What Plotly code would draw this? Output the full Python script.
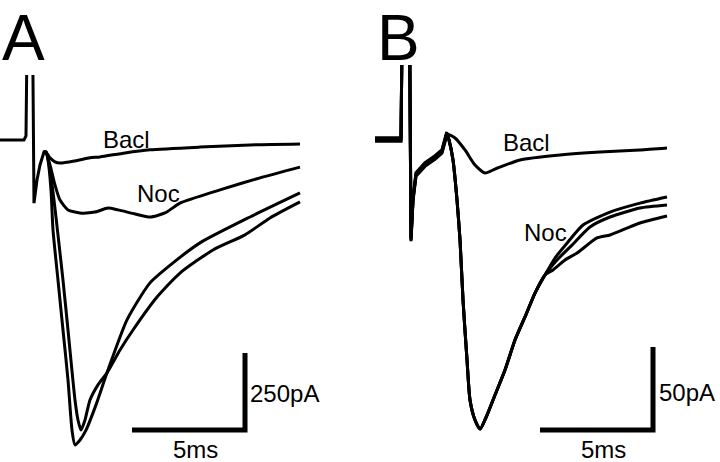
import plotly.graph_objects as go

# ---------------- Panel A (time in ms, current in pA) ----------------
a_pre_t = [-1.2, -0.044, 0.044, 0.133, 0.310, 0.398, 0.531, 0.664, 0.841, 0.929]
a_pre_i = [0, 0, 13, 600, 600, -205, -130, -81, -39, -39]

a_bacl_t = [1.106, 1.327, 1.549, 2.212, 2.876, 3.319, 4.425, 5.531, 7.743, 9.956, 12.168]
a_bacl_i = [-58, -71, -75, -68, -58, -55, -42, -32, -23, -16, -13]

a_noc_t = [1.106, 1.327, 1.549, 1.903, 2.434, 3.097, 3.673, 4.115, 4.867, 5.531, 6.195,
           6.858, 8.628, 10.398, 12.168]
a_noc_i = [-81, -146, -195, -227, -237, -234, -221, -227, -240, -250, -237,
           -205, -162, -123, -88]

a_ctl1_t = [1.018, 1.150, 1.239, 1.460, 1.681, 1.903, 2.080, 2.212, 2.434, 2.699, 3.142,
            3.628, 4.513, 5.531, 6.549, 7.743, 9.956, 12.168]
a_ctl1_i = [-65, -162, -292, -455, -617, -779, -942, -990, -974, -942, -860,
            -756, -584, -464, -399, -334, -250, -172]

a_ctl2_t = [1.106, 1.283, 1.460, 1.681, 1.903, 2.212, 2.345, 2.478, 2.655, 2.876, 3.230,
            3.628, 4.204, 4.779, 5.841, 6.858, 8.319, 9.735, 10.841, 12.168]
a_ctl2_i = [-97, -195, -308, -455, -617, -844, -909, -942, -909, -844, -795,
            -756, -682, -617, -510, -432, -357, -308, -253, -201]

# ---------------- Panel B ----------------
b_pre_t = [-1.106, 0.044, 0.133, 0.398, 0.487, 0.575, 0.708, 1.106, 1.549, 1.858, 2.035, 2.080]
b_pre_i = [0, 0, 120, 120, -60.2, -36.1, -21.1, -15.1, -10.8, -7.2, 1.8, 3.6]

b_bacl_t = [2.434, 2.876, 3.319, 3.761, 4.204, 5.310, 7.080, 8.850, 10.619, 11.814]
b_bacl_i = [1.2, -6.0, -15.1, -19.9, -17.5, -12.0, -9.0, -7.2, -6.0, -4.8]

b_main_t = [2.168, 2.345, 2.522, 2.655, 2.788, 2.965, 3.097, 3.319, 3.540, 3.850, 4.204,
            4.646, 5.088, 5.531, 5.973, 6.416]
b_main_i = [0, -12.0, -36.1, -60.2, -96.4, -132.5, -156.6, -168.7, -174.1, -165.7, -153.6,
            -138.6, -120.5, -106.6, -92.2, -81.3]

b_top_t = [6.858, 7.434, 8.097, 9.292, 10.619, 11.814]
b_top_i = [-71.1, -61.4, -51.2, -43.4, -38.0, -34.3]
b_mid_t = [6.947, 7.611, 8.407, 9.292, 10.619, 11.814]
b_mid_i = [-72.3, -63.3, -52.4, -46.4, -41.0, -39.2]
b_bot_t = [6.770, 7.301, 7.832, 8.717, 9.292, 9.956, 10.619, 11.814]
b_bot_i = [-78.3, -72.3, -68.1, -59.0, -57.2, -53.6, -50.0, -45.8]

# scale bars
a_bar_t = [4.735, 9.735, 9.735]
a_bar_i = [-941.6, -941.6, -691.6]
b_bar_t = [6.195, 11.195, 11.195]
b_bar_i = [-174.7, -174.7, -124.7]

fig = go.Figure()
LW = 3.0
BLACK = "#000000"


def add(x, y, xa, ya, w=LW, shape="linear"):
    kw = dict(color=BLACK, width=w, shape=shape)
    if shape == "spline":
        kw["smoothing"] = 0.6
    fig.add_trace(go.Scatter(x=x, y=y, mode="lines", xaxis=xa, yaxis=ya, line=kw,
                             hoverinfo="skip", showlegend=False))


# Panel A: stimulus artifact (linear), then smooth responses from the peak
add(a_pre_t, a_pre_i, "x", "y")
for tt, ii in [(a_bacl_t, a_bacl_i), (a_noc_t, a_noc_i), (a_ctl1_t, a_ctl1_i), (a_ctl2_t, a_ctl2_i)]:
    add(a_pre_t[-2:] + tt, a_pre_i[-2:] + ii, "x", "y", shape="spline")
add(a_bar_t, a_bar_i, "x", "y", w=5)

# Panel B (several superimposed sweeps -> slightly offset copies of the artifact)
for off in [0.0, 0.8, -0.8, 1.4]:
    pre_i = [v if v >= 100 else v + off for v in b_pre_i]
    add(b_pre_t, pre_i, "x2", "y2")
for tt, ii in [(b_bacl_t, b_bacl_i),
               (b_main_t + b_top_t, b_main_i + b_top_i),
               (b_main_t + b_mid_t, b_main_i + b_mid_i),
               (b_main_t + b_bot_t, b_main_i + b_bot_i)]:
    add(b_pre_t[-2:] + tt, b_pre_i[-2:] + ii, "x2", "y2", shape="spline")
add(b_bar_t, b_bar_i, "x2", "y2", w=5)

FONT = "Liberation Sans, Arial, Helvetica, sans-serif"


def label(text, x, y, xr, yr, size=24, xanchor="center"):
    fig.add_annotation(text=text, x=x, y=y, xref=xr, yref=yr, showarrow=False,
                       xanchor=xanchor, yanchor="middle",
                       font=dict(family=FONT, size=size, color=BLACK))


label("Bacl", 4.469, 3.2, "x", "y")
label("Noc", 5.885, -175.3, "x", "y")
label("250pA", 9.867, -824.7, "x", "y", xanchor="left")
label("5ms", 7.522, -1006.5, "x", "y")

label("Bacl", 5.575, -1.8, "x2", "y2")
label("Noc", 6.416, -56.0, "x2", "y2")
label("50pA", 11.372, -152.4, "x2", "y2", xanchor="left")
label("5ms", 8.982, -186.7, "x2", "y2")

for txt, xc in [("A", 23), ("B", 398)]:
    fig.add_annotation(text=txt, x=xc / 720, y=1.0, xref="paper", yref="paper",
                       showarrow=False, xanchor="center", yanchor="top",
                       font=dict(family=FONT, size=64, color=BLACK))

axis_common = dict(visible=False, showgrid=False, zeroline=False, fixedrange=True)
fig.update_layout(
    width=720, height=462,
    margin=dict(l=0, r=0, t=0, b=0),
    paper_bgcolor="white", plot_bgcolor="white",
    xaxis=dict(domain=[0, 0.5], range=[-1.106, 14.823], **axis_common),
    yaxis=dict(domain=[0, 0.83766], range=[-1045.5, 211.0], **axis_common),
    xaxis2=dict(domain=[0.5, 1.0], range=[-1.770, 14.159], anchor="y2", **axis_common),
    yaxis2=dict(domain=[0, 0.85931], range=[-193.98, 45.18], anchor="x2", **axis_common),
)

fig.write_html("out.html", config={"displayModeBar": False},
               post_script="document.body.style.margin='0';document.body.style.padding='0';")
